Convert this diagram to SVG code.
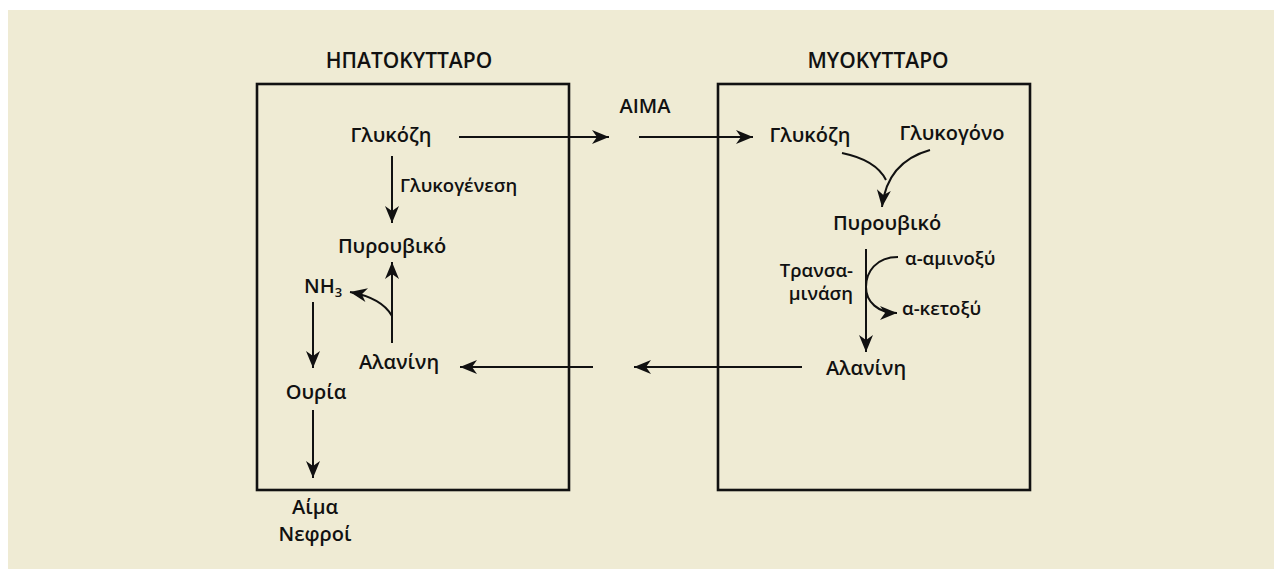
<svg xmlns="http://www.w3.org/2000/svg" width="1274" height="569" viewBox="0 0 1274 569">
<defs>
<style>
text{font-family:"Open Sans","Noto Sans","DejaVu Sans",sans-serif;font-weight:600;fill:#111;}
.lg{font-size:20px;}
.tt{font-size:21px;}
.sm{font-size:18.5px;}
.box{fill:none;stroke:#111;stroke-width:2.6;}
.ln{fill:none;stroke:#111;stroke-width:2;}
</style>
<marker id="ah" viewBox="-18 -8 19 16" refX="0" refY="0" markerWidth="19" markerHeight="16" markerUnits="userSpaceOnUse" orient="auto">
<path d="M0,0 L-17,-7 L-12,0 L-17,7 Z" fill="#111"/>
</marker>
</defs>
<rect x="0" y="0" width="1274" height="569" fill="#fff"/>
<rect x="8" y="10" width="1266" height="559" fill="#EFEBD4"/>

<g id="hepatocyte">
<rect class="box" x="257" y="84" width="312" height="406"/>
<text class="tt" x="409" y="68" text-anchor="middle">ΗΠΑΤΟΚΥΤΤΑΡΟ</text>
</g>
<g id="myocyte">
<rect class="box" x="718" y="84" width="312" height="406"/>
<text class="tt" x="878" y="68" text-anchor="middle">ΜΥΟΚΥΤΤΑΡΟ</text>
</g>

<g id="n-glucose-l"><text class="lg" x="391" y="142" text-anchor="middle">Γλυκόζη</text></g>
<g id="n-glyconeo-label"><text class="sm" x="400" y="192">Γλυκογένεση</text></g>
<g id="n-pyruvate-l"><text class="lg" x="392" y="253" text-anchor="middle">Πυρουβικό</text></g>
<g id="n-nh3"><text class="lg" x="304" y="293">NH<tspan font-size="13" dy="4">3</tspan></text></g>
<g id="n-alanine-l"><text class="lg" x="399" y="369" text-anchor="middle">Αλανίνη</text></g>
<g id="n-urea"><text class="lg" x="316" y="399" text-anchor="middle">Ουρία</text></g>
<g id="n-blood-kidney"><text class="lg" x="315" y="514" text-anchor="middle">Αίμα</text><text class="lg" x="315" y="541" text-anchor="middle">Νεφροί</text></g>
<g id="n-blood"><text class="lg" x="645" y="113" text-anchor="middle">ΑΙΜΑ</text></g>
<g id="n-glucose-r"><text class="lg" x="810" y="142" text-anchor="middle">Γλυκόζη</text></g>
<g id="n-glycogen"><text class="lg" x="952" y="140" text-anchor="middle">Γλυκογόνο</text></g>
<g id="n-pyruvate-r"><text class="lg" x="887" y="230" text-anchor="middle">Πυρουβικό</text></g>
<g id="n-transam"><text class="sm" x="853" y="277" text-anchor="end">Τρανσα-</text><text class="sm" x="853" y="300" text-anchor="end">μινάση</text></g>
<g id="n-aminoacid"><text class="sm" x="905" y="265">α-αμινοξύ</text></g>
<g id="n-ketoacid"><text class="sm" x="902" y="315">α-κετοξύ</text></g>
<g id="n-alanine-r"><text class="lg" x="866" y="375" text-anchor="middle">Αλανίνη</text></g>

<g id="connectors">
<path class="ln" d="M459,137 H609" marker-end="url(#ah)"/>
<path class="ln" d="M639,137 H753" marker-end="url(#ah)"/>
<path class="ln" d="M392,156 V223" marker-end="url(#ah)"/>
<path class="ln" d="M392,343 V262" marker-end="url(#ah)"/>
<path class="ln" d="M392,316 Q382,298 350,292" marker-end="url(#ah)"/>
<path class="ln" d="M313,302 V368" marker-end="url(#ah)"/>
<path class="ln" d="M313,410 V478" marker-end="url(#ah)"/>
<path class="ln" d="M842,153 Q876,160 886,180"/>
<path class="ln" d="M930,150 Q887,162 882,207" marker-end="url(#ah)"/>
<path class="ln" d="M866,249 V352" marker-end="url(#ah)"/>
<path class="ln" d="M898,257 C876,257 866,272 866,287 C866,302 878,313 897,313" marker-end="url(#ah)"/>
<path class="ln" d="M802,367 H634" marker-end="url(#ah)"/>
<path class="ln" d="M593,367 H460" marker-end="url(#ah)"/>
</g>
</svg>
